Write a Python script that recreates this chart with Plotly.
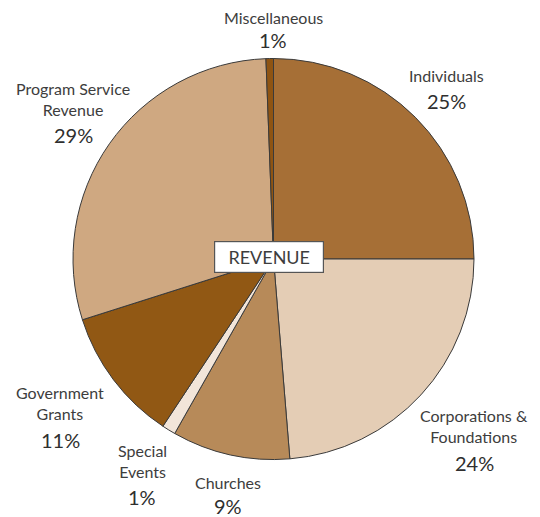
import plotly.graph_objects as go

categories = ["Individuals", "Corporations & Foundations", "Churches", "Special Events",
              "Government Grants", "Program Service Revenue", "Miscellaneous"]
label_lines = ["Individuals", "Corporations &<br>Foundations", "Churches", "Special<br>Events",
               "Government<br>Grants", "Program Service<br>Revenue", "Miscellaneous"]
values = [25, 23.7, 9.5, 1.1, 10.8, 29.3, 0.6]
pct_labels = ["25%", "24%", "9%", "1%", "11%", "29%", "1%"]
colors = ["#A66F36", "#E4CDB5", "#B78A59", "#F2E5D9", "#915814", "#CFA881", "#8F5412"]

# page body adds an 8px offset; compensate
OX, OY = 8, 8
W, H = 540, 517
name_pos = [(446, 87), (474, 448), (228, 494), (142, 483), (60, 425), (73, 121), (273, 29)]
pct_y = [101, 463, 506, 497, 440, 135, 40]


def px(x):
    return (x - OX) / W


def py(y):
    return 1 - (y - OY) / H


fig = go.Figure(go.Pie(
    labels=categories, values=values, sort=False, direction="clockwise", rotation=0,
    marker=dict(colors=colors, line=dict(color="#3a3a3a", width=1)),
    textinfo="none", hoverinfo="label+percent", showlegend=False,
    domain=dict(x=[px(73), px(474)], y=[py(460), py(58)]),
))

font_name = "Lato"
anns = []
for txt, (x, yb), pcy, p in zip(label_lines, name_pos, pct_y, pct_labels):
    anns.append(dict(x=px(x), y=py(yb), xref="paper", yref="paper", text=txt,
                     showarrow=False, xanchor="center", yanchor="bottom",
                     font=dict(family=font_name, size=16, color="#3d3d3d")))
    anns.append(dict(x=px(x), y=py(pcy), xref="paper", yref="paper", text=p,
                     showarrow=False, xanchor="center", yanchor="middle",
                     font=dict(family=font_name, size=20, color="#2f2f2f")))
anns.append(dict(x=px(268.5), y=py(257.5), xref="paper", yref="paper", text="REVENUE",
                 showarrow=False, xanchor="center", yanchor="middle",
                 font=dict(family=font_name, size=18, color="#3d3d3d"),
                 bgcolor="white", bordercolor="#555555", borderwidth=1.2, borderpad=4,
                 width=100))

fig.update_layout(width=W, height=H, margin=dict(l=0, r=0, t=0, b=0),
                  paper_bgcolor="white", plot_bgcolor="white", annotations=anns)
fig.write_html("out.html")
